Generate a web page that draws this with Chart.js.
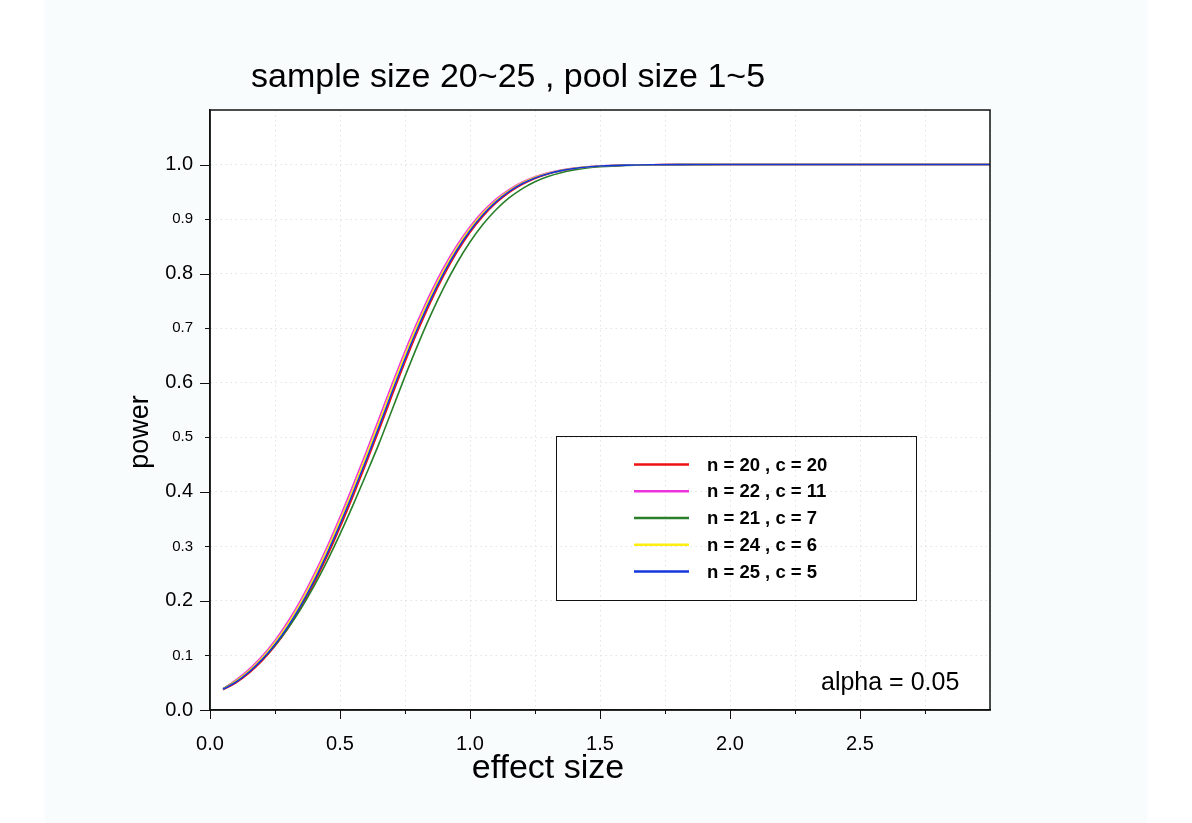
<!DOCTYPE html>
<html>
<head>
<meta charset="utf-8">
<title>power curves</title>
<script src="https://cdn.jsdelivr.net/npm/chart.js@4.4.1/dist/chart.umd.min.js"></script>
<style>
  html, body { margin: 0; padding: 0; background: #ffffff; }
  #wrap { width: 1192px; height: 823px; }
</style>
</head>
<body>
<div id="wrap"><canvas id="chart" width="1192" height="823"></canvas></div>
<script>
// effect size grid (x) shared by every curve
const effectSize = [0.05, 0.10, 0.15, 0.20, 0.25, 0.30, 0.35, 0.40, 0.45, 0.50,
  0.55, 0.60, 0.65, 0.70, 0.75, 0.80, 0.85, 0.90, 0.95, 1.00,
  1.05, 1.10, 1.15, 1.20, 1.25, 1.30, 1.35, 1.40, 1.45, 1.50,
  1.60, 1.70, 1.80, 1.90, 2.00, 2.50, 3.00];

// power, one list per design
const powerN20C20 = [0.037, 0.0498, 0.0675, 0.0898, 0.1171, 0.1499, 0.1881, 0.2321, 0.2810, 0.3347,
  0.3917, 0.4514, 0.5128, 0.5761, 0.6376, 0.6957, 0.7492, 0.7973, 0.8394, 0.8753,
  0.9052, 0.9295, 0.9487, 0.9634, 0.9745, 0.9827, 0.9885, 0.9925, 0.9952, 0.9970,
  0.9990, 0.9997, 0.9999, 1, 1, 1, 1];
const powerN22C11 = [0.039, 0.0553, 0.0745, 0.0985, 0.1276, 0.1623, 0.2025, 0.2482, 0.2988, 0.3538,
  0.4119, 0.4721, 0.5344, 0.5973, 0.6578, 0.7144, 0.7662, 0.8123, 0.8523, 0.8862,
  0.9141, 0.9365, 0.9541, 0.9676, 0.9776, 0.9849, 0.9900, 0.9935, 0.9959, 0.9975,
  0.9992, 0.9997, 0.9999, 1, 1, 1, 1];
const powerN21C7 = [0.039, 0.0534, 0.0709, 0.0926, 0.1188, 0.1499, 0.1859, 0.2270, 0.2726, 0.3224,
  0.3756, 0.4313, 0.4884, 0.5501, 0.6116, 0.6704, 0.7253, 0.7752, 0.8195, 0.8579,
  0.8904, 0.9171, 0.9387, 0.9555, 0.9685, 0.9781, 0.9851, 0.9901, 0.9936, 0.9959,
  0.9985, 0.9995, 0.9998, 0.9999, 1, 1, 1];
const powerN24C6 = [0.038, 0.0534, 0.0720, 0.0954, 0.1238, 0.1579, 0.1974, 0.2425, 0.2925, 0.3471,
  0.4048, 0.4649, 0.5268, 0.5899, 0.6507, 0.7079, 0.7603, 0.8071, 0.8478, 0.8824,
  0.9110, 0.9341, 0.9523, 0.9662, 0.9766, 0.9841, 0.9895, 0.9932, 0.9957, 0.9973,
  0.9991, 0.9997, 0.9999, 1, 1, 1, 1];
const powerN25C5 = [0.038, 0.0514, 0.0695, 0.0923, 0.1202, 0.1534, 0.1924, 0.2367, 0.2863, 0.3402,
  0.3977, 0.4575, 0.5191, 0.5824, 0.6436, 0.7013, 0.7543, 0.8018, 0.8433, 0.8786,
  0.9079, 0.9316, 0.9503, 0.9647, 0.9755, 0.9833, 0.9889, 0.9928, 0.9954, 0.9972,
  0.9990, 0.9997, 0.9999, 1, 1, 1, 1];

const seriesLabels = ['n = 20 , c = 20', 'n = 22 , c = 11', 'n = 21 , c = 7', 'n = 24 , c = 6', 'n = 25 , c = 5'];
const seriesColors = ['#ee1111', '#ee33dd', '#2a7f2a', '#ffee11', '#1536dd'];
const seriesValues = [powerN20C20, powerN22C11, powerN21C7, powerN24C6, powerN25C5];

const FONT = "'Liberation Sans', Arial, Helvetica, sans-serif";
const TITLE = 'sample size 20~25 , pool size 1~5';

const isMajorY = v => Math.round(v * 10) % 2 === 0;
const isMajorX = v => Math.abs(v * 2 - Math.round(v * 2)) < 1e-6;

// background panel, box, tick marks, titles and legend
const framePlugin = {
  id: 'frame',
  beforeDraw(chart) {
    const { ctx, chartArea: a } = chart;
    ctx.save();
    ctx.fillStyle = '#f8fcfd';
    ctx.fillRect(45, 0, 1102, chart.height);
    ctx.fillStyle = '#ffffff';
    ctx.fillRect(a.left, a.top, a.right - a.left, a.bottom - a.top);
    ctx.restore();
  },
  afterDraw(chart) {
    const { ctx, chartArea: a, scales } = chart;
    ctx.save();
    ctx.strokeStyle = '#111111';
    ctx.lineWidth = 1.5;
    ctx.strokeRect(a.left, a.top, a.right - a.left, a.bottom - a.top);

    // tick marks: long for labelled ticks, short for the others
    ctx.lineWidth = 1;
    ctx.beginPath();
    scales.y.ticks.forEach(t => {
      const y = Math.round(scales.y.getPixelForValue(t.value)) + 0.5;
      const len = isMajorY(t.value) ? 10 : 5;
      ctx.moveTo(a.left - len, y);
      ctx.lineTo(a.left, y);
    });
    scales.x.ticks.forEach(t => {
      if (t.value > 2.9) return;
      const x = Math.round(scales.x.getPixelForValue(t.value)) + 0.5;
      const len = isMajorX(t.value) ? 9 : 4;
      ctx.moveTo(x, a.bottom);
      ctx.lineTo(x, a.bottom + len);
    });
    ctx.stroke();

    // titles
    ctx.fillStyle = '#000000';
    ctx.textAlign = 'left';
    ctx.textBaseline = 'alphabetic';
    ctx.font = `34px ${FONT}`;
    ctx.fillText(TITLE, 251, 87);
    ctx.textAlign = 'center';
    ctx.fillText('effect size', 548, 778);
    ctx.save();
    ctx.translate(148, 432);
    ctx.rotate(-Math.PI / 2);
    ctx.font = `27px ${FONT}`;
    ctx.fillText('power', 0, 0);
    ctx.restore();

    ctx.textAlign = 'left';
    ctx.font = `25px ${FONT}`;
    ctx.fillText('alpha = 0.05', 821, 690);

    // legend box
    ctx.lineWidth = 1;
    ctx.strokeStyle = '#111111';
    ctx.strokeRect(556.5, 436.5, 360, 164);
    ctx.font = `bold 18.5px ${FONT}`;
    ctx.textBaseline = 'middle';
    chart.data.datasets.forEach((ds, i) => {
      const y = 464.5 + i * 26.75;
      ctx.strokeStyle = ds.borderColor;
      ctx.lineWidth = 2.5;
      ctx.beginPath();
      ctx.moveTo(634, y);
      ctx.lineTo(689, y);
      ctx.stroke();
      ctx.fillStyle = '#000000';
      ctx.fillText(ds.label, 707, y + 1);
    });
    ctx.restore();
  }
};

const datasets = seriesLabels.map((label, i) => ({
  label: label,
  data: effectSize.map((x, j) => ({ x: x, y: seriesValues[i][j] })),
  borderColor: seriesColors[i],
  backgroundColor: seriesColors[i],
  borderWidth: 1.6,
  pointRadius: 0,
  fill: false,
  cubicInterpolationMode: 'monotone',
  order: seriesLabels.length - i
}));

new Chart(document.getElementById('chart').getContext('2d'), {
  type: 'line',
  data: { datasets: datasets },
  options: {
    responsive: false,
    animation: false,
    layout: { padding: { left: 0, top: 110, right: 202, bottom: 53 } },
    plugins: {
      legend: { display: false },
      title: { display: false },
      tooltip: { enabled: false }
    },
    scales: {
      x: {
        type: 'linear',
        min: 0,
        max: 3,
        afterFit: s => { s.height = 60; },
        grid: { color: '#dfe4e7', lineWidth: 1, drawTicks: false },
        border: { color: '#111111', width: 1.5, dash: [1.5, 3.5] },
        ticks: {
          stepSize: 0.25,
          autoSkip: false,
          maxRotation: 0,
          padding: 22,
          color: '#000000',
          font: { family: FONT, size: 20 },
          callback: v => (isMajorX(v) && v < 2.9 ? v.toFixed(1) : '')
        }
      },
      y: {
        type: 'linear',
        min: 0,
        max: 1.1,
        afterFit: s => { s.width = 210; },
        afterBuildTicks: s => { s.ticks = s.ticks.filter(t => t.value < 1.05); },
        grid: { color: '#dfe4e7', lineWidth: 1, drawTicks: false },
        border: { color: '#111111', width: 1.5, dash: [1.5, 3.5] },
        ticks: {
          stepSize: 0.1,
          autoSkip: false,
          padding: 17,
          color: '#000000',
          font: ctx => ({ family: FONT, size: (ctx.tick && !isMajorY(ctx.tick.value)) ? 15 : 20 }),
          callback: v => v.toFixed(1)
        }
      }
    }
  },
  plugins: [framePlugin]
});
</script>
</body>
</html>
